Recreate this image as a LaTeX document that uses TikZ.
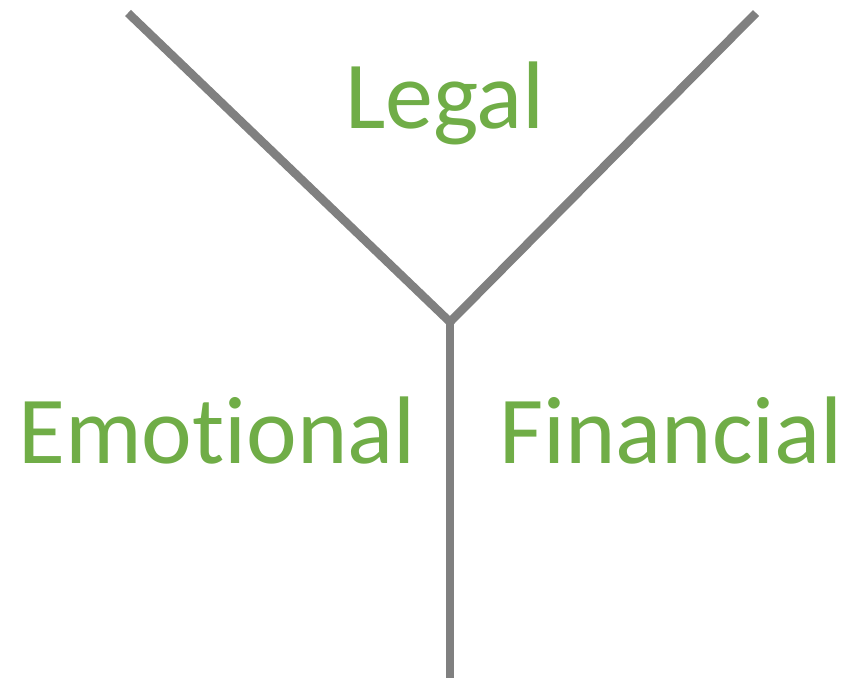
\documentclass[tikz,border=0pt]{standalone}
\usepackage{fontspec}
\setmainfont[Ligatures=NoCommon]{Carlito}
\definecolor{lbl}{HTML}{70AD47}
\definecolor{ln}{HTML}{808080}
\tikzset{branch/.style={draw=ln,line width=8.5pt},
lab/.style={text=lbl,font=\fontsize{96}{96}\selectfont,inner sep=0pt}}
\begin{document}
\begin{tikzpicture}[x=1pt,y=-1pt]
\useasboundingbox (0,0) rectangle (847,678);
\coordinate (tl) at (128,13);
\coordinate (tr) at (756,13);
\coordinate (j) at (450,322);
\coordinate (b) at (450,678);
\draw[branch,line join=round] (tl) -- (j) -- (tr);
\draw[branch] (j) -- (b);
\node[lab,anchor=base] (legal) at (445,128) {Legal};
\node[lab,anchor=base west] (emo) at (18,463) {Emotional};
\node[lab,anchor=base west] (fin) at (499,463) {Financial};
\end{tikzpicture}
\end{document}
